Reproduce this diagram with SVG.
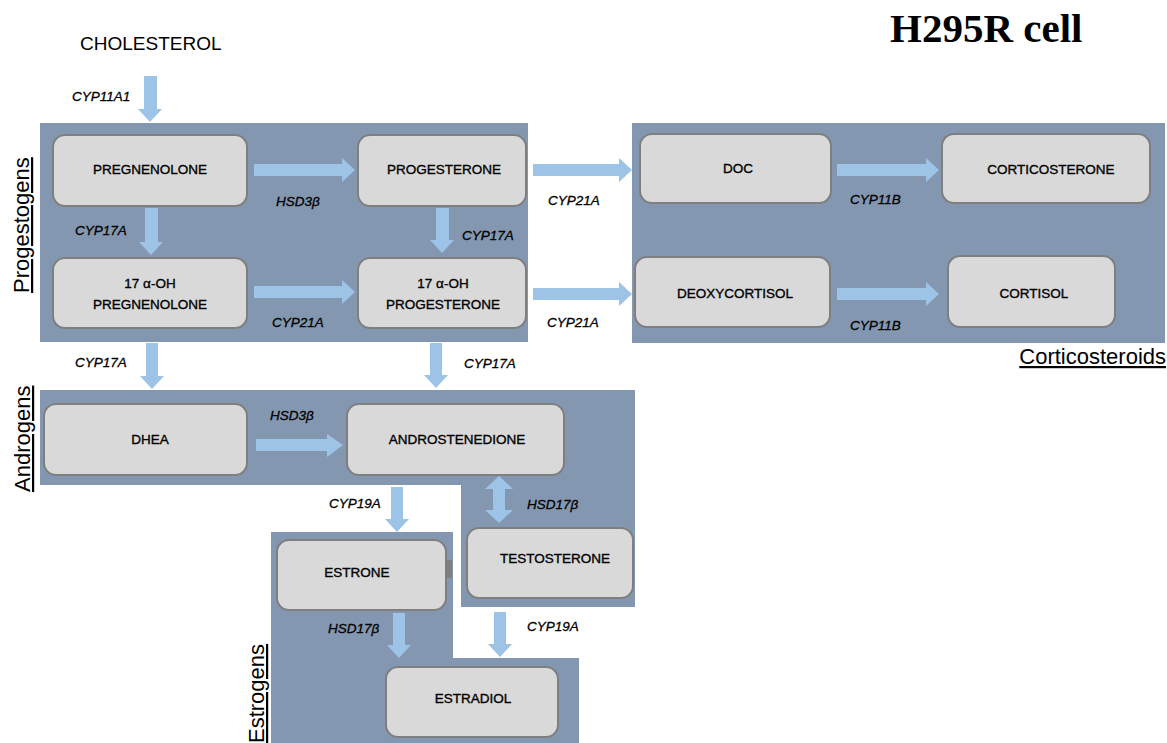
<svg xmlns="http://www.w3.org/2000/svg" width="1167" height="743" viewBox="0 0 1167 743">
<style>
.panel{fill:#8497B0;}
.node rect{fill:#D9D9D9;stroke:#7F7F7F;stroke-width:2;}
.node text{font-family:"Liberation Sans",Arial,sans-serif;font-size:13.5px;fill:#000;stroke:#000;stroke-width:0.35;text-anchor:middle;dominant-baseline:central;}
.arrow{fill:#9DC3E6;}
.lbl{font-family:"Liberation Sans",Arial,sans-serif;font-size:13.5px;font-style:italic;fill:#000;stroke:#000;stroke-width:0.3;dominant-baseline:central;}
.grp{font-family:"Liberation Sans",Arial,sans-serif;font-size:22px;fill:#000;text-decoration:underline;}
</style>
<rect width="1167" height="743" fill="#FFFFFF"/>
<g id="panels">
<rect id="panel-progestogens" class="panel" x="40" y="123" width="488" height="219"/>
<rect id="panel-corticosteroids" class="panel" x="632" y="123" width="533" height="220"/>
<path id="panel-androgens" class="panel" d="M40,390 H635 V607 H461 V485 H40 Z"/>
<path id="panel-estrogens" class="panel" d="M271,532 H453 V658 H579 V743 H271 Z"/>
</g>
<text x="890" y="42" font-family="'Liberation Serif','Times New Roman',serif" font-size="41" font-weight="bold" fill="#000">H295R cell</text>
<text x="80" y="50" font-family="'Liberation Sans',Arial,sans-serif" font-size="19" fill="#000">CHOLESTEROL</text>
<text class="grp" transform="translate(29,293) rotate(-90)">Progestogens</text>
<text class="grp" transform="translate(30,492) rotate(-90)">Androgens</text>
<text class="grp" transform="translate(264,743) rotate(-90)">Estrogens</text>
<text class="grp" x="1166" y="364" text-anchor="end">Corticosteroids</text>
<g id="connectors">
<polygon class="arrow" points="144,76 157,76 157,109 162,109 150,122 138,109 144,109"/>
<polygon class="arrow" points="145,208 158,208 158,242 163,242 151,255 139,242 145,242"/>
<polygon class="arrow" points="436,208 449,208 449,240 454,240 442,253 430,240 436,240"/>
<polygon class="arrow" points="254,164 342,164 342,158 355,170 342,182 342,176 254,176"/>
<polygon class="arrow" points="254,286 342,286 342,280 355,292 342,304 342,298 254,298"/>
<polygon class="arrow" points="533,164 619,164 619,158 632,170 619,182 619,176 533,176"/>
<polygon class="arrow" points="533,288 619,288 619,282 632,294 619,306 619,300 533,300"/>
<polygon class="arrow" points="837,164 926,164 926,158 939,170 926,182 926,176 837,176"/>
<polygon class="arrow" points="837,288 926,288 926,282 939,294 926,306 926,300 837,300"/>
<polygon class="arrow" points="146,343 158,343 158,376 164,376 152,389 140,376 146,376"/>
<polygon class="arrow" points="430,343 442,343 442,375 448,375 436,388 424,375 430,375"/>
<polygon class="arrow" points="256,439 327,439 327,434 343,445 327,457 327,451 256,451"/>
<polygon class="arrow" points="391,487 403,487 403,519 409,519 397,532 385,519 391,519"/>
<polygon class="arrow" points="499,476 513,489 505,489 505,510 513,510 499,523 485,510 493,510 493,489 485,489"/>
<polygon class="arrow" points="393,613 405,613 405,645 411,645 399,658 387,645 393,645"/>
<polygon class="arrow" points="494,612 506,612 506,644 512,644 500,657 488,644 494,644"/>
<rect x="446" y="560" width="6" height="18" fill="#7F7F7F"/>
</g>
<g id="labels">
<text class="lbl" x="72" y="96">CYP11A1</text>
<text class="lbl" x="75" y="230">CYP17A</text>
<text class="lbl" x="462" y="235">CYP17A</text>
<text class="lbl" x="276" y="201">HSD3β</text>
<text class="lbl" x="272" y="322">CYP21A</text>
<text class="lbl" x="548" y="200">CYP21A</text>
<text class="lbl" x="547" y="322">CYP21A</text>
<text class="lbl" x="850" y="199">CYP11B</text>
<text class="lbl" x="850" y="325">CYP11B</text>
<text class="lbl" x="75" y="362">CYP17A</text>
<text class="lbl" x="464" y="363">CYP17A</text>
<text class="lbl" x="270" y="415">HSD3β</text>
<text class="lbl" x="329" y="503">CYP19A</text>
<text class="lbl" x="527" y="504">HSD17β</text>
<text class="lbl" x="328" y="628">HSD17β</text>
<text class="lbl" x="527" y="626">CYP19A</text>
</g>
<g id="node-pregnenolone" class="node"><rect x="53" y="135" width="194" height="71" rx="12"/><text x="150" y="169">PREGNENOLONE</text></g>
<g id="node-progesterone" class="node"><rect x="358" y="135" width="168" height="71" rx="12"/><text x="444" y="169">PROGESTERONE</text></g>
<g id="node-17oh-pregnenolone" class="node"><rect x="53" y="258" width="194" height="70" rx="12"/><text x="150" y="283">17 α-OH</text><text x="150" y="304">PREGNENOLONE</text></g>
<g id="node-17oh-progesterone" class="node"><rect x="358" y="258" width="168" height="70" rx="12"/><text x="443" y="283">17 α-OH</text><text x="443" y="304">PROGESTERONE</text></g>
<g id="node-doc" class="node"><rect x="640" y="134" width="191" height="69" rx="12"/><text x="738" y="168">DOC</text></g>
<g id="node-corticosterone" class="node"><rect x="942" y="134" width="208" height="69" rx="12"/><text x="1051" y="169">CORTICOSTERONE</text></g>
<g id="node-deoxycortisol" class="node"><rect x="635" y="257" width="195" height="70" rx="12"/><text x="735" y="293">DEOXYCORTISOL</text></g>
<g id="node-cortisol" class="node"><rect x="948" y="256" width="167" height="71" rx="12"/><text x="1034" y="293">CORTISOL</text></g>
<g id="node-dhea" class="node"><rect x="44" y="404" width="203" height="71" rx="12"/><text x="150" y="439">DHEA</text></g>
<g id="node-androstenedione" class="node"><rect x="347" y="404" width="217" height="71" rx="12"/><text x="457" y="439">ANDROSTENEDIONE</text></g>
<g id="node-estrone" class="node"><rect x="277" y="540" width="169" height="70" rx="12"/><text x="357" y="572">ESTRONE</text></g>
<g id="node-testosterone" class="node"><rect x="467" y="528" width="166" height="70" rx="12"/><text x="555" y="558">TESTOSTERONE</text></g>
<g id="node-estradiol" class="node"><rect x="386" y="667" width="172" height="70" rx="12"/><text x="473" y="698">ESTRADIOL</text></g>
</svg>
